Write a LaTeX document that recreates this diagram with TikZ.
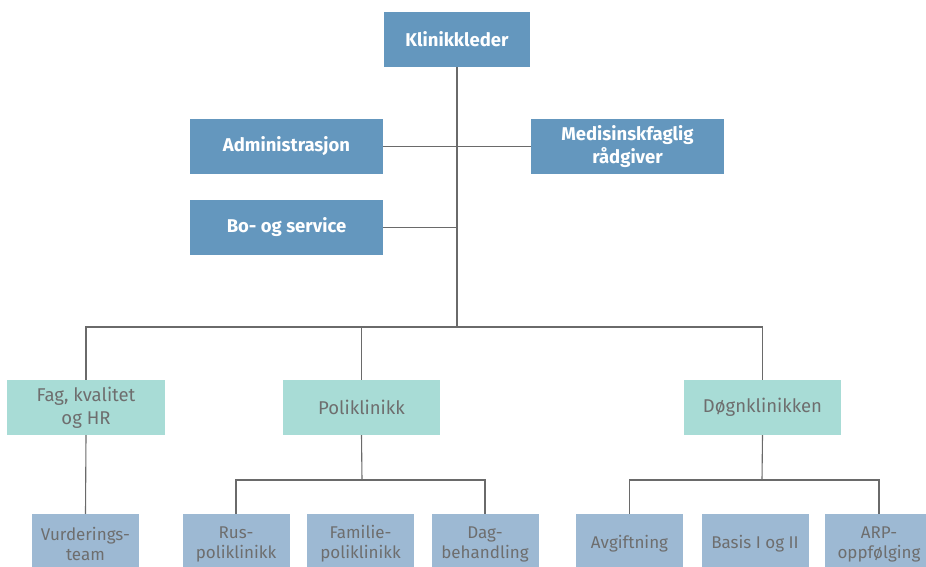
\documentclass[tikz,border=0pt]{standalone}
\usepackage{fontspec}
\setmainfont{Fira Sans}
\definecolor{darkbox}{HTML}{6497BE}
\definecolor{tealbox}{HTML}{A8DCD6}
\definecolor{lightbox}{HTML}{9DB9D3}
\definecolor{txtgray}{HTML}{6E6E6E}
\definecolor{linegray}{HTML}{6A6A6A}
\tikzset{
  topbox/.style={fill=darkbox, text=white, font=\fontsize{18.5}{23}\selectfont\bfseries, minimum width=193pt, minimum height=55pt, align=center, inner sep=0pt},
  midbox/.style={fill=tealbox, text=txtgray, font=\fontsize{18.5}{23}\selectfont, minimum width=157pt, minimum height=55pt, align=center, inner sep=0pt},
  lowbox/.style={fill=lightbox, text=txtgray, font=\fontsize{17}{20}\selectfont, minimum width=107pt, minimum height=60pt, align=center, inner sep=0pt},
  conn/.style={draw=linegray, line width=1.1pt}
}
\begin{document}
\begin{tikzpicture}[x=1pt,y=-1pt]
\useasboundingbox (0,0) rectangle (926,566);
\node[topbox, minimum width=146pt] (kl) at (457,39.5) {Klinikkleder};
\node[topbox] (adm) at (286.5,146.5) {Administrasjon};
\node[topbox] (med) at (627.5,146.5) {Medisinskfaglig\\rådgiver};
\node[topbox] (bo) at (286.5,227.5) {Bo- og service};
\node[midbox, minimum width=158pt] (fag) at (86,407.5) {Fag, kvalitet\\og HR};
\node[midbox] (pol) at (361.5,407.5) {Poliklinikk};
\node[midbox] (dogn) at (762.5,407.5) {Døgnklinikken};
\node[lowbox] (vur) at (85.5,544) {Vurderings-\\team};
\node[lowbox] (rus) at (236,544) {Rus-\\poliklinikk};
\node[lowbox] (fam) at (360.5,544) {Familie-\\poliklinikk};
\node[lowbox] (dag) at (485,544) {Dag-\\behandling};
\node[lowbox] (avg) at (629.5,544) {Avgiftning};
\node[lowbox] (bas) at (755,544) {Basis I og II};
\node[lowbox, minimum width=108pt] (arp) at (879,544) {ARP-\\oppfølging};
\coordinate (hub) at (457,327);
\coordinate (pj) at (362,480);
\coordinate (dj) at (762,480);
\draw[conn] (kl.south) -- (hub);
\draw[conn] (adm.east) -- (med.west);
\draw[conn] (bo.east) -- (bo.east -| kl.south);
\draw[conn] (fag.north) |- (hub) -| (dogn.north);
\draw[conn] (pol.north) -- (pol.north |- hub);
\draw[conn] (fag.south) -- (vur.north);
\draw[conn] (pol.south) -- (pj);
\draw[conn] (rus.north) |- (pj) -| (dag.north);
\draw[conn] (dogn.south) -- (dj);
\draw[conn] (avg.north) |- (dj) -| (arp.north);
\end{tikzpicture}
\end{document}
